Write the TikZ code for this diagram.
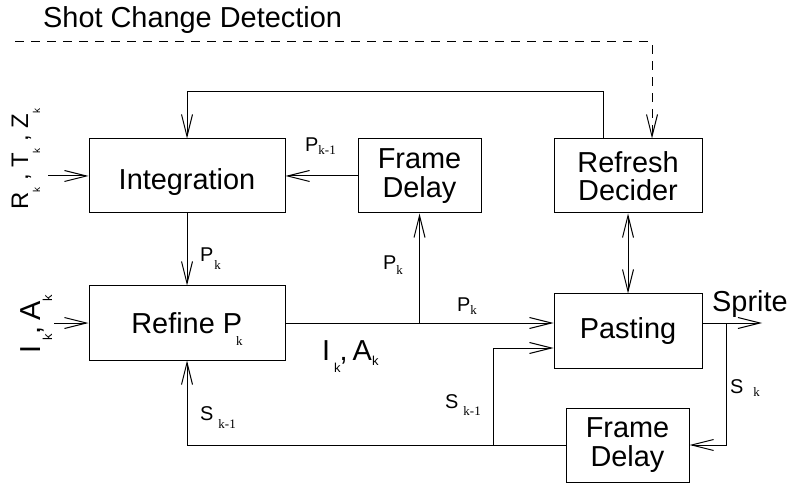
\documentclass[tikz,border=0pt]{standalone}
\usepackage{fontspec}
\setmainfont{Liberation Sans}
\newfontfamily\serifk{Liberation Serif}
\usetikzlibrary{arrows.meta}
\newcommand\fbig{\fontsize{29}{28.5}\selectfont}
\newcommand\fmid{\fontsize{20}{20}\selectfont}
\newcommand\fks{\serifk\fontsize{13}{13}\selectfont}
\newcommand\fss{\fontsize{13}{13}\selectfont}
\newcommand\frtz{\fontsize{24}{24}\selectfont}
\newcommand\frtzk{\fontsize{10}{10}\selectfont}
\begin{document}
\begin{tikzpicture}[x=1bp,y=-1bp,
  box/.style={draw,line width=1bp,minimum height=74bp,inner sep=0pt,font=\fbig,align=center},
  ln/.style={line width=1bp},
  ar/.style={-{Straight Barb[length=22bp,width=11bp,line width=1bp]}},
  dar/.style={{Straight Barb[length=22bp,width=11bp,line width=1bp]}-{Straight Barb[length=22bp,width=11bp,line width=1bp]}},
  lbl/.style={inner sep=0pt,anchor=base west}]
\useasboundingbox (0,0) rectangle (792,485);
% boxes
\node[box,minimum width=196bp,text height=27bp,text depth=0bp] (integ) at (187,176) {Integration};
\node[box,minimum width=123bp] (fd1) at (419.5,176) {Frame\\Delay};
\node[box,minimum width=148bp] (refresh) at (628,176) {Refresh\\Decider};
\node[box,minimum width=196bp] (refine) at (187,323) {Refine P\kern-6bp\raisebox{-12bp}[0pt][0pt]{\fks k}};
\node[box,minimum width=148bp] (paste) at (628,331) {Pasting};
\node[box,minimum width=123bp] (fd2) at (627.5,445) {Frame\\Delay};
% connectors
\coordinate (dstart) at (15,42);
\coordinate (dcorner) at (652,42);
\draw[ln,ar,dash pattern=on 9bp off 7bp] (dstart) -- (dcorner) -- (dcorner |- refresh.north);
\coordinate (fb) at (603,92);
\draw[ln,ar] (fb |- refresh.north) -- (fb) -- (fb -| integ.north) -- (integ.north);
\draw[ln,ar] (fd1.west) -- (integ.east);
\coordinate (rtzin) at (48,176);
\draw[ln,ar] (rtzin) -- (integ.west);
\draw[ln,ar] (integ.south) -- (refine.north);
\draw[ln,ar] (refine.east) -- (refine.east -| paste.west);
\draw[ln,ar] (refine.east -| fd1.south) -- (fd1.south);
\coordinate (iain) at (54,323);
\draw[ln,ar] (iain) -- (refine.west);
\coordinate (sin) at (493,348);
\draw[ln,ar] (fd2.west) -- (fd2.west -| refine.south) -- (refine.south);
\draw[ln,ar] (fd2.west -| sin) -- (sin) -- (sin -| paste.west);
\coordinate (spout) at (762,323);
\draw[ln,ar] (paste.east |- refine.east) -- (spout);
\coordinate (skx) at (726,323);
\draw[ln,ar] (skx) -- (skx |- fd2.east) -- (fd2.east);
\draw[ln,dar] (refresh.south) -- (paste.north);
% labels
\node[lbl,font=\fbig] (title) at (43,28) {Shot Change Detection};
\node[lbl,font=\fmid] (pk1) at (305,152) {P\raisebox{-3bp}{\fks k-1}};
\node[lbl,font=\fmid] (pka) at (200,262) {P\kern1bp\raisebox{-8bp}{\fks k}};
\node[lbl,font=\fmid] (pkb) at (383,270) {P\raisebox{-5bp}{\fks k}};
\node[lbl,font=\fmid] (pkc) at (457,312) {P\raisebox{-3bp}{\fks k}};
\node[lbl,font=\fmid] (skma) at (200,420) {S\kern5bp\raisebox{-8bp}{\fks k-1}};
\node[lbl,font=\fmid] (skmb) at (445,408) {S\kern5bp\raisebox{-7bp}{\fks k-1}};
\node[lbl,font=\fmid] (sk) at (730,393) {S\kern10bp\raisebox{-3bp}{\fks k}};
\node[lbl,font=\fbig] (sprite) at (712,312) {Sprite};
\node[lbl,font=\fbig] (ia) at (322,360) {I\kern4bp\raisebox{-12bp}{\fss k}\kern-1bp,\kern5bp A\raisebox{-5bp}{\fss k}};
\node[lbl,font=\frtz,rotate=90] (rtz) at (28,210) {R\raisebox{-12bp}{\frtzk k} , T\raisebox{-12bp}{\frtzk k} , Z\raisebox{-12bp}{\frtzk k}};
\node[lbl,font=\fbig,rotate=90] (iar) at (40,354) {I\kern5bp\raisebox{-12bp}{\fss k},\kern6bp A\raisebox{-12bp}{\fss k}};
\end{tikzpicture}
\end{document}
